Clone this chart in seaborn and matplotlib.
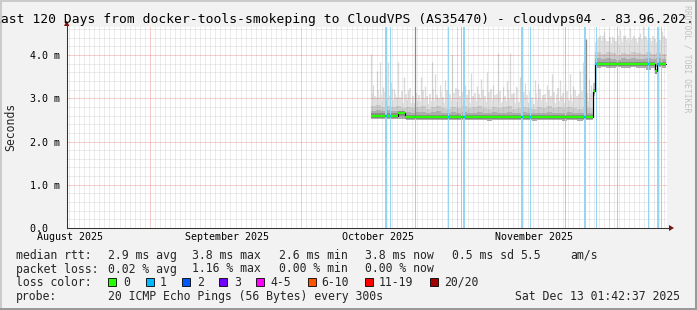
import numpy as np
import pandas as pd
import matplotlib
matplotlib.use("Agg")
import matplotlib.pyplot as plt
import matplotlib.dates as mdates
import matplotlib.transforms as mtrans
from matplotlib.patches import Rectangle, Polygon
import seaborn as sns

# ---------------- data ----------------
x_start = "2025-08-15 12:36"
x_end = "2025-12-12 13:00"
y_max_ms = 4.66

month_starts = ["2025-09-01", "2025-10-01", "2025-11-01", "2025-12-01"]
month_label_dates = ["2025-08-16 06:00", "2025-09-16 06:00", "2025-10-16 06:00", "2025-11-16 06:00"]
month_labels = ["August 2025", "September 2025", "October 2025", "November 2025"]
y_ticks_ms = [0, 1, 2, 3, 4]
y_tick_labels = ["0.0  ", "1.0 m", "2.0 m", "3.0 m", "4.0 m"]

# median rtt (step series, last entry = end of data)
median_time = ["2025-10-14 19:00", "2025-10-20 05:00", "2025-10-21 14:00", "2025-11-27 23:15",
               "2025-11-28 08:40", "2025-12-10 04:00", "2025-12-10 13:30", "2025-12-12 08:00"]
median_ms = [2.60, 2.65, 2.57, 3.17, 3.80, 3.63, 3.80, 3.80]

# smoke bands, one value per day
pre_start, pre_end = "2025-10-14 19:00", "2025-11-27 23:15"
pre_top = [2.98, 3.04, 2.93, 3.00, 2.95, 3.02, 2.90, 2.96, 2.88, 2.94,
           2.99, 2.87, 2.94, 3.01, 2.90, 2.86, 2.95, 2.92, 2.98, 2.89,
           2.93, 3.00, 2.91, 2.87, 2.96, 2.90, 2.94, 2.99, 2.88, 2.92,
           2.97, 2.90, 2.86, 2.95, 2.91, 2.98, 2.89, 2.94, 2.90, 2.96,
           2.92, 2.88, 2.95, 2.93, 2.90]
pre_p80 = [2.82, 2.84, 2.80, 2.83, 2.79, 2.82, 2.78, 2.80, 2.77, 2.79,
           2.81, 2.76, 2.79, 2.82, 2.78, 2.76, 2.80, 2.78, 2.81, 2.77,
           2.79, 2.82, 2.78, 2.76, 2.80, 2.77, 2.79, 2.81, 2.76, 2.78,
           2.80, 2.77, 2.75, 2.79, 2.78, 2.81, 2.77, 2.79, 2.77, 2.80,
           2.78, 2.76, 2.79, 2.78, 2.77]
pre_p60 = [2.71, 2.72, 2.70, 2.72, 2.70, 2.71, 2.69, 2.68, 2.67, 2.68,
           2.69, 2.66, 2.68, 2.70, 2.67, 2.66, 2.68, 2.67, 2.69, 2.66,
           2.67, 2.69, 2.67, 2.66, 2.68, 2.66, 2.67, 2.69, 2.66, 2.67,
           2.68, 2.66, 2.65, 2.67, 2.66, 2.68, 2.66, 2.67, 2.66, 2.68,
           2.67, 2.65, 2.67, 2.66, 2.66]
pre_low = [2.52, 2.53, 2.52, 2.53, 2.52, 2.53, 2.51, 2.50, 2.49, 2.50,
           2.50, 2.49, 2.50, 2.50, 2.49, 2.49, 2.50, 2.49, 2.50, 2.49,
           2.49, 2.50, 2.49, 2.48, 2.50, 2.49, 2.49, 2.50, 2.49, 2.49,
           2.50, 2.49, 2.48, 2.49, 2.49, 2.50, 2.49, 2.49, 2.48, 2.50,
           2.49, 2.48, 2.49, 2.49, 2.49]
trans_time = ["2025-11-27 23:15", "2025-11-28 08:40"]
trans_low, trans_top = 3.05, 3.35
post_start, post_end = "2025-11-28 08:40", "2025-12-12 08:00"
post_top = [4.30, 4.26, 4.33, 4.28, 4.24, 4.31, 4.27, 4.34, 4.29, 4.25, 4.32, 4.27, 4.30, 4.26]
post_p80 = [4.06, 4.03, 4.08, 4.04, 4.01, 4.05, 4.03, 4.08, 4.04, 4.02, 4.06, 4.03, 4.05, 4.03]
post_p60 = [3.92, 3.90, 3.93, 3.91, 3.89, 3.92, 3.91, 3.93, 3.91, 3.90, 3.92, 3.91, 3.92, 3.91]
post_low = [3.71, 3.72, 3.70, 3.71, 3.72, 3.71, 3.70, 3.72, 3.71, 3.70, 3.66, 3.71, 3.72, 3.71]

# single high pings (days since spike_ref, top in ms)
spike_ref = "2025-09-01"
spike_day = [43.86, 44.35, 44.98, 45.64, 46.23, 47.17, 47.82, 48.41, 49.27, 50.40,
             51.19, 53.77, 54.56, 55.89, 56.54, 57.53, 58.52, 59.97, 61.10, 62.49,
             63.68, 64.81, 65.66, 66.85, 68.04, 69.09, 70.02, 70.82, 71.41, 72.60,
             73.40, 74.39, 76.37, 76.97, 78.69, 79.74, 81.32, 82.32, 83.25, 83.90,
             85.29, 85.89, 87.07, 87.57,
             89.23, 89.63, 90.11, 90.64, 91.57, 92.23, 92.72, 93.22, 93.72, 94.21,
             94.71, 95.20, 95.70, 96.19, 96.69, 97.19, 97.84, 98.38, 98.83, 99.54,
             99.96, 100.49, 100.97, 101.48, 102.14]
spike_top = [4.02, 3.30, 3.62, 3.85, 3.25, 3.85, 3.38, 3.22, 3.85, 3.50,
             3.18, 3.50, 3.28, 3.85, 3.55, 3.30, 3.42, 4.00, 3.22, 3.30,
             3.58, 3.28, 3.45, 3.60, 3.30, 4.04, 3.25, 3.40, 4.04, 3.28,
             3.50, 3.35, 3.43, 3.32, 3.30, 3.55, 3.43, 3.32, 3.55, 3.28,
             3.62, 3.85, 3.45, 3.30,
             4.47, 4.35, 4.55, 4.30, 4.43, 4.32, 4.38, 4.59, 4.36, 4.47,
             4.33, 4.62, 4.40, 4.39, 4.30, 4.51, 4.66, 4.42, 4.62, 4.32,
             4.36, 4.43, 4.34, 4.55, 4.39]
# lower haze of short spikes just above the dense smoke
haze_day = [44.1, 44.7, 45.3, 45.9, 46.6, 47.4, 48.0, 48.7, 49.6, 50.1,
            50.8, 51.5, 52.1, 52.8, 53.4, 54.2, 55.0, 55.5, 56.2, 56.9,
            57.8, 58.2, 58.9, 59.5, 60.4, 60.8, 61.5, 62.0, 62.8, 63.3,
            64.1, 64.5, 65.2, 66.1, 66.5, 67.3, 67.7, 68.4, 68.8, 69.5,
            70.4, 71.1, 71.8, 72.2, 72.9, 73.7, 74.1, 74.8, 75.3, 75.8,
            76.6, 77.4, 77.9, 78.3, 79.1, 79.5, 80.1, 80.7, 81.0, 81.7,
            82.0, 82.7, 83.6, 84.3, 84.7, 85.0, 85.6, 86.2, 86.7, 87.3,
            87.8,
            88.7, 89.0, 89.4, 89.9, 90.3, 90.9, 91.2, 91.8, 92.0, 92.5,
            92.9, 93.4, 94.0, 94.4, 94.9, 95.4, 95.9, 96.4, 96.9, 97.4,
            97.6, 98.1, 98.6, 99.1, 99.3, 99.8, 100.2, 100.7, 101.2, 101.7,
            102.0, 102.3]
haze_top = [3.12, 3.05, 3.20, 3.08, 3.15, 3.06, 3.22, 3.10, 3.04, 3.17,
            3.09, 3.24, 3.06, 3.13, 3.08, 3.19, 3.05, 3.11, 3.21, 3.07,
            3.14, 3.04, 3.18, 3.09, 3.12, 3.23, 3.06, 3.15, 3.08, 3.20,
            3.05, 3.13, 3.10, 3.18, 3.06, 3.14, 3.22, 3.07, 3.11, 3.16,
            3.05, 3.19, 3.09, 3.12, 3.24, 3.06, 3.15, 3.08, 3.17, 3.04,
            3.13, 3.21, 3.07, 3.10, 3.18, 3.06, 3.14, 3.09, 3.23, 3.05,
            3.12, 3.16, 3.08, 3.20, 3.06, 3.11, 3.17, 3.05, 3.13, 3.09,
            3.15,
            4.36, 4.41, 4.33, 4.44, 4.38, 4.31, 4.42, 4.35, 4.40, 4.32,
            4.45, 4.37, 4.43, 4.34, 4.39, 4.31, 4.44, 4.36, 4.41, 4.33,
            4.38, 4.45, 4.35, 4.40, 4.32, 4.43, 4.37, 4.42, 4.34, 4.39,
            4.44, 4.36]
dark_spike_time = ["2025-10-23 14:00", "2025-11-26 10:00"]
dark_spike_top = [4.66, 4.36]

# packet-loss intervals (1/20 lost), start and number of 4.8 h bins
loss_time = ["2025-10-17 15:00", "2025-10-18 15:00", "2025-10-23 14:00", "2025-10-30 04:20",
             "2025-11-01 15:20", "2025-11-02 02:10", "2025-11-13 12:40", "2025-11-15 09:00",
             "2025-11-22 07:40", "2025-11-26 02:00", "2025-11-28 09:40", "2025-12-02 13:40",
             "2025-12-08 20:00", "2025-12-10 14:40", "2025-12-11 07:00"]
loss_bins = [2, 1, 1, 1, 1, 2, 2, 1, 1, 2, 1, 1, 1, 2, 1]
loss_bin_hours = 4.8

title = "Last 120 Days from docker-tools-smokeping to CloudVPS (AS35470) - cloudvps04 - 83.96.202."
rtt_stats = ["2.9 ms avg", "3.8 ms max", "2.6 ms min", "3.8 ms now", "0.5 ms sd", "5.5", "am/s"]
loss_stats = ["0.02 % avg", "1.16 % max", "0.00 % min", "0.00 % now"]
loss_color_labels = ["0", "1", "2", "3", "4-5", "6-10", "11-19", "20/20"]
loss_colors = ["#26ff00", "#00b8ff", "#0059ff", "#7000ff", "#ff00ff", "#ff5500", "#ff0000", "#a00000"]
probe_text = "20 ICMP Echo Pings (56 Bytes) every 300s"
stamp_text = "Sat Dec 13 01:42:37 2025"

# ---------------- style ----------------
sns.set_theme(style="white")
plt.rcParams['font.family'] = ['DejaVu Sans Mono']
plt.rcParams['axes.unicode_minus'] = False

W, H = 697, 310
fig = plt.figure(figsize=(W / 100, H / 100), dpi=100)
fig.patch.set_facecolor('#f2f2f2')

def fx(x):
    return x / W

def fy(y):
    return 1 - y / H

AX_L, AX_R, AX_T, AX_B = 66.7, 667.0, 26.5, 228.0
ax = fig.add_axes([fx(AX_L), fy(AX_B), (AX_R - AX_L) / W, (AX_B - AX_T) / H])
ax.set_facecolor('white')

axis_col = '#333333'
t0, t1 = pd.Timestamp(x_start), pd.Timestamp(x_end)

# ---- smoke ----
def step_edges(start, end, n):
    e = [pd.Timestamp(start) + pd.Timedelta(days=i) for i in range(n)] + [pd.Timestamp(end)]
    return pd.DatetimeIndex(e)

layers = [("top", '#e0e0e0'), ("p80", '#cbcbcb'), ("p60", '#aeaeae')]
pre = {"top": pre_top, "p80": pre_p80, "p60": pre_p60}
post = {"top": post_top, "p80": post_p80, "p60": post_p60}
pre_e = step_edges(pre_start, pre_end, len(pre_top))
post_e = step_edges(post_start, post_end, len(post_top))

med_t = pd.to_datetime(median_time)
med_v = np.array(median_ms)

def median_at(ts):
    idx = np.searchsorted(med_t.values, pd.DatetimeIndex(ts).values, side='right') - 1
    idx = np.clip(idx, 0, len(med_v) - 1)
    return med_v[idx]

# spikes (below bands)
sp_t = pd.Timestamp(spike_ref) + pd.to_timedelta(spike_day, unit='D')
ax.vlines(sp_t, median_at(sp_t), spike_top, colors='#d9d9d9', lw=0.9, zorder=0.9)
hz_t = pd.Timestamp(spike_ref) + pd.to_timedelta(haze_day, unit='D')
ax.vlines(hz_t, median_at(hz_t), haze_top, colors='#dcdcdc', lw=1.2, zorder=0.9)

for key, col in layers:
    ax.fill_between(pre_e, list(pre_low) + [pre_low[-1]], list(pre[key]) + [pre[key][-1]],
                    step='post', color=col, lw=0, zorder=1.0)
    ax.fill_between(post_e, list(post_low) + [post_low[-1]], list(post[key]) + [post[key][-1]],
                    step='post', color=col, lw=0, zorder=1.0)
tt = pd.to_datetime(trans_time)
ax.fill_between(tt, [trans_low] * 2, [trans_top] * 2, step='post', color='#c4c4c4', lw=0, zorder=1.0)
# dark core around the median
ax.fill_between(med_t, med_v - 0.06, med_v + 0.05, step='post', color='#8c8c8c', lw=0, zorder=1.1)

# ---- grid (rrdtool style, dotted, drawn over the smoke) ----
minor_days = [d for d in pd.date_range(t0.ceil('D'), t1, freq='D') if d not in pd.to_datetime(month_starts)]
ax.vlines(minor_days, 0, y_max_ms, colors='#8c8c8c', alpha=0.33, linestyles=(0, (1, 1)), lw=0.72, zorder=1.5)
minor_y = [v / 5 for v in range(1, 24) if v % 5]
ax.hlines(minor_y, t0, t1, colors='#8c8c8c', alpha=0.33, linestyles=(0, (1, 1)), lw=0.72, zorder=1.5)
ax.vlines(pd.to_datetime(month_starts), 0, y_max_ms, colors='#dc2828', alpha=0.45,
          linestyles=(0, (1, 1)), lw=0.72, zorder=1.6)
ax.hlines(y_ticks_ms[1:], t0, t1, colors='#dc2828', alpha=0.45, linestyles=(0, (1, 1)), lw=0.72, zorder=1.6)

# ---- loss bars ----
l_t = pd.to_datetime(loss_time)
l_end = l_t + pd.to_timedelta(np.array(loss_bins) * loss_bin_hours, unit='h')
for a, b in zip(l_t, l_end):
    ax.axvspan(a, b, color='#96d6f3', lw=0, zorder=2.0)

ds_t = pd.to_datetime(dark_spike_time)
ax.vlines(ds_t, median_at(ds_t), dark_spike_top, colors='#8a8a8a', lw=0.9, zorder=2.2)

# ---- median line ----
med_df = pd.DataFrame({"time": med_t, "ms": med_v})
sns.lineplot(data=med_df, x="time", y="ms", drawstyle='steps-post', color='black', lw=0.8, ax=ax, zorder=3)
ax.hlines(med_v[:-1], med_t[:-1], med_t[1:], colors='#26ff00', lw=1.6, zorder=3.5)
ax.hlines(median_at(l_t), l_t, l_end, colors='#00b8ff', lw=1.6, zorder=3.6)

# ---- axes ----
ax.set_xlim(t0, t1)
ax.set_ylim(0, y_max_ms)
ax.set_xlabel("")
ax.set_ylabel("")
for s in ['top', 'right']:
    ax.spines[s].set_visible(False)
for s in ['left', 'bottom']:
    ax.spines[s].set_color(axis_col)
    ax.spines[s].set_linewidth(0.75)
    ax.spines[s].set_zorder(5)
ax.set_xticks(pd.to_datetime(month_starts))
ax.set_xticklabels([])
ax.xaxis.set_minor_locator(matplotlib.ticker.NullLocator())
ax.tick_params(axis='x', length=2.2, width=0.72, color=axis_col, direction='out')
ax.set_yticks(y_ticks_ms)
ax.set_yticklabels(y_tick_labels)
ax.tick_params(axis='y', length=2.9, width=0.72, color=axis_col, direction='out', pad=1.8,
               labelsize=7.2, labelcolor='black')

lab_tr = mtrans.blended_transform_factory(ax.transData, fig.transFigure)
for d, s in zip(month_label_dates, month_labels):
    ax.text(mdates.date2num(pd.Timestamp(d)), fy(240.3), s, transform=lab_tr, ha='center',
            va='baseline', fontsize=7.2, color='black', clip_on=False)

# arrows
fig.add_artist(Polygon([(fx(669), fy(225)), (fx(669), fy(231)), (fx(674), fy(228))],
                       closed=True, transform=fig.transFigure, color='#7f1010', lw=0))
fig.add_artist(Polygon([(fx(64), fy(26)), (fx(69.4), fy(26)), (fx(66.7), fy(20.5))],
                       closed=True, transform=fig.transFigure, color='#7f1010', lw=0))
fig.add_artist(matplotlib.lines.Line2D([fx(667), fx(669.5)], [fy(228), fy(228)],
                                       transform=fig.transFigure, color=axis_col, lw=0.75))

# frame
def prect(x, y, w, h, c):
    fig.add_artist(Rectangle((fx(x), fy(y + h)), w / W, h / H, transform=fig.transFigure,
                             facecolor=c, edgecolor='none', lw=0))
prect(0, 0, W, 2, '#cbcbcb')
prect(0, 0, 2, H, '#cbcbcb')
prect(0, H - 2, W, 2, '#999999')
prect(W - 2, 0, 2, H, '#999999')

# ---- texts ----
FS = 8.3
fig.text(fx(-7.1), fy(23.5), title, ha='left', va='baseline', fontsize=9.35, color='black')
fig.text(fx(10.5), fy(127), "Seconds", rotation=90, ha='center', va='center', fontsize=FS)
fig.text(fx(687), fy(59), "RRDTOOL / TOBI OETIKER", rotation=270, ha='center', va='center',
         fontsize=5.9, color='#c2c2c2')

rows_y = [258.7, 272.5, 285.9, 300.0]
fig.text(fx(16), fy(rows_y[0]), "median rtt:", fontsize=FS, va='baseline')
for xp, s in zip([107.6, 192.4, 279, 365, 451.5, 520, 570], rtt_stats):
    fig.text(fx(xp), fy(rows_y[0]), s, fontsize=FS, va='baseline')
fig.text(fx(16), fy(rows_y[1]), "packet loss:", fontsize=FS, va='baseline')
for xp, s in zip([107.6, 192.4, 279, 365], loss_stats):
    fig.text(fx(xp), fy(rows_y[1]), s, fontsize=FS, va='baseline')
fig.text(fx(16), fy(rows_y[2]), "loss color:", fontsize=FS, va='baseline')
box_x = [108.4, 145.8, 182.2, 219.0, 256.4, 307.6, 365.3, 430.0]
lab_x = [123.6, 160.0, 197.0, 234.0, 270.7, 321.3, 379.0, 444.4]
for bx, lx, s, c in zip(box_x, lab_x, loss_color_labels, loss_colors):
    fig.add_artist(Rectangle((fx(bx), fy(286.0)), 8 / W, 8 / H, transform=fig.transFigure,
                             facecolor=c, edgecolor='black', lw=0.6))
    fig.text(fx(lx), fy(rows_y[2]), s, fontsize=FS, va='baseline')
fig.text(fx(16), fy(rows_y[3]), "probe:", fontsize=FS, va='baseline')
fig.text(fx(107.6), fy(rows_y[3]), probe_text, fontsize=FS, va='baseline')
fig.text(fx(680), fy(rows_y[3]), stamp_text, fontsize=FS, va='baseline', ha='right')

fig.savefig("out.png", dpi=100, facecolor=fig.get_facecolor())
